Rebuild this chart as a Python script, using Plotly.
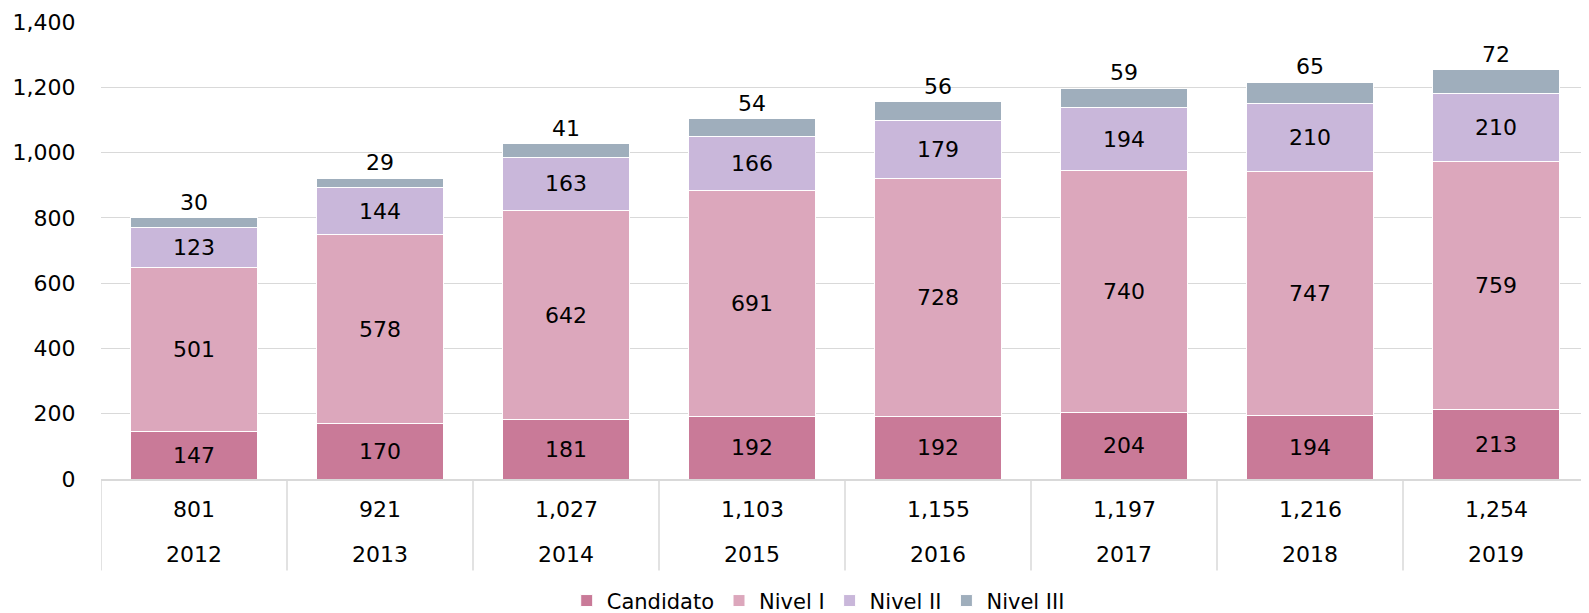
import plotly.graph_objects as go

years = ["2012", "2013", "2014", "2015", "2016", "2017", "2018", "2019"]
totals = ["801", "921", "1,027", "1,103", "1,155", "1,197", "1,216", "1,254"]
candidato = [147, 170, 181, 192, 192, 204, 194, 213]
nivel1 = [501, 578, 642, 691, 728, 740, 747, 759]
nivel2 = [123, 144, 163, 166, 179, 194, 210, 210]
nivel3 = [30, 29, 41, 54, 56, 59, 65, 72]

series = [
    ("Candidato", candidato, "#C97A98"),
    ("Nivel I", nivel1, "#DCA7BC"),
    ("Nivel II", nivel2, "#C9B7DA"),
    ("Nivel III", nivel3, "#9FAEBC"),
]

FONT = "DejaVu Sans"
GRID = "#D9D9D9"
FS = 22

fig = go.Figure()
for i, (name, vals, color) in enumerate(series):
    top = (i == len(series) - 1)
    fig.add_trace(go.Bar(
        name=name, x=years, y=vals,
        marker=dict(color=color, line=dict(color="white", width=1)),
        text=[str(v) for v in vals],
        textposition="outside" if top else "inside",
        insidetextanchor="middle",
        constraintext="none",
        textfont=dict(family=FONT, size=FS, color="black"),
        outsidetextfont=dict(family=FONT, size=FS, color="black"),
        cliponaxis=False,
        hoverinfo="skip",
    ))

# category labels below the axis: totals (upper row) and years (lower row)
for k, (yr, tot) in enumerate(zip(years, totals)):
    fig.add_annotation(x=k, y=-0.066, xref="x", yref="paper", text=tot,
                       showarrow=False, yanchor="middle",
                       font=dict(family=FONT, size=FS, color="black"))
    fig.add_annotation(x=k, y=-0.166, xref="x", yref="paper", text=yr,
                       showarrow=False, yanchor="middle",
                       font=dict(family=FONT, size=FS, color="black"))

# dividers between categories
for k in range(len(years)):
    fig.add_shape(type="line", xref="x", yref="paper",
                  x0=k - 0.5, x1=k - 0.5, y0=0, y1=-0.2,
                  line=dict(color=GRID, width=1.5))

fig.update_layout(
    barmode="stack",
    bargap=0.32,
    width=1581, height=605,
    margin=dict(l=93, r=0, t=14, b=134, autoexpand=False),
    paper_bgcolor="white", plot_bgcolor="white",
    font=dict(family=FONT, size=FS, color="black"),
    showlegend=True,
    legend=dict(orientation="h", x=0.482, xanchor="center",
                yref="container", y=0.02, yanchor="middle",
                font=dict(family=FONT, size=21), traceorder="normal",
                itemwidth=30, tracegroupgap=0),
    yaxis=dict(range=[0, 1400], dtick=200, tickformat=",", gridcolor=GRID,
               gridwidth=1, zeroline=False, showline=False,
               ticks="outside", ticklen=20, tickcolor="rgba(0,0,0,0)",
               tickfont=dict(size=FS), automargin=False),
    xaxis=dict(type="category", showline=True, linecolor=GRID, linewidth=2,
               showticklabels=False, ticks="", automargin=False,
               range=[-0.5, 7.5]),
)

fig.write_html("out.html")
